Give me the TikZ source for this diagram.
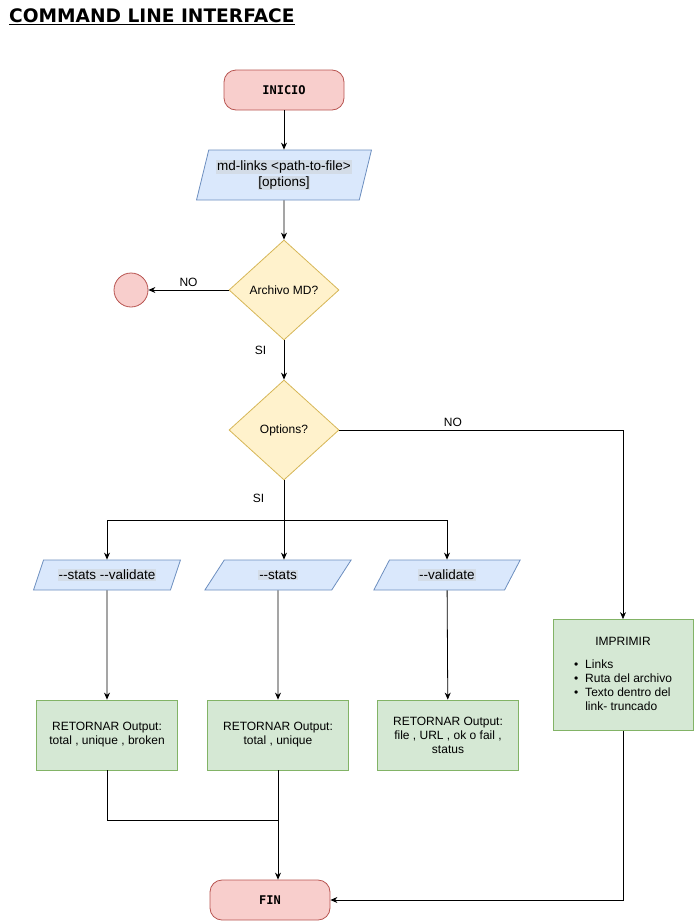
\documentclass[tikz,border=0pt]{standalone}
\usepackage{fontspec}
\setmainfont{Liberation Sans}
\newfontfamily\titlefont{DejaVu Sans}
\newfontfamily\termfont{DejaVu Sans Mono}
\usepackage{tikz}
\usetikzlibrary{shapes.geometric, arrows.meta, positioning, calc}
\definecolor{termfill}{HTML}{F8CECC}
\definecolor{termline}{HTML}{B85450}
\definecolor{iofill}{HTML}{DAE8FC}
\definecolor{ioline}{HTML}{6C8EBF}
\definecolor{askfill}{HTML}{FFF2CC}
\definecolor{askline}{HTML}{D6B656}
\definecolor{outfill}{HTML}{D5E8D4}
\definecolor{outline}{HTML}{82B366}
\definecolor{hlgray}{HTML}{D3DCE7}
\newcommand{\hlt}[1]{{\setlength{\fboxsep}{0.8pt}\colorbox{hlgray}{#1}}}

\begin{document}
\begin{tikzpicture}[x=1pt, y=-1pt,
    terminal/.style={rectangle, rounded corners=12pt, draw=termline, fill=termfill,
        line width=0.8pt, minimum width=120pt, minimum height=40pt,
        font=\termfont\bfseries\fontsize{12}{14}\selectfont},
    entrada/.style={trapezium, trapezium stretches=true, draw=ioline, fill=iofill,
        line width=0.8pt, inner sep=0pt, align=center,
        font=\fontsize{13.5}{16}\selectfont},
    pregunta/.style={diamond, draw=askline, fill=askfill, line width=0.8pt,
        inner sep=0pt, minimum width=110pt, minimum height=100pt,
        font=\fontsize{12}{14}\selectfont},
    salida/.style={rectangle, draw=outline, fill=outfill, line width=0.8pt,
        minimum width=141pt, minimum height=70pt, align=center,
        font=\fontsize{12}{14}\selectfont},
    flecha/.style={-{Stealth[length=7pt,width=6pt]}, line width=0.8pt},
    linea/.style={line width=0.8pt},
    rotulo/.style={font=\fontsize{12}{14}\selectfont}]
    \useasboundingbox (0,0) rectangle (694,921);

    % Title
    \node[anchor=west, inner sep=0pt, font=\titlefont\bfseries\fontsize{18.6}{20}\selectfont]
        (titulo) at (9,17) {\underline{COMMAND LINE INTERFACE}};

    % Main column
    \node[terminal] (inicio) at (284,90) {INICIO};
    \node[entrada, trapezium left angle=70, trapezium right angle=110,
        minimum width=175pt, minimum height=50pt] (cmd) at (284,175)
        {\hlt{md-links <path-to-file>}\\\hlt{[options]}};
    \node[pregunta] (esmd) at (284,290) {Archivo MD?};
    \node[circle, draw=termline, fill=termfill, line width=0.8pt,
        minimum size=34pt, inner sep=0pt] (nomd) at (131,290) {};
    \node[pregunta] (opts) at (284,430) {Options?};

    % Option branches
    \coordinate (rama) at (284,520);
    \node[entrada, trapezium left angle=56, trapezium right angle=124,
        minimum width=147pt, minimum height=30pt] (sv) at (107,575) {\hlt{-{}-stats -{}-validate}};
    \node[entrada, trapezium left angle=56, trapezium right angle=124,
        minimum width=147pt, minimum height=30pt] (st) at (278,575) {\hlt{-{}-stats}};
    \node[entrada, trapezium left angle=56, trapezium right angle=124,
        minimum width=147pt, minimum height=30pt] (val) at (447,575) {\hlt{-{}-validate}};

    \node[salida] (r1) at (107,735) {RETORNAR Output:\\total , unique , broken};
    \node[salida] (r2) at (278,735) {RETORNAR Output:\\total , unique};
    \node[salida] (r3) at (448,735) {RETORNAR Output:\\file , URL , ok o fail ,\\status};

    \node[salida, minimum width=140pt, minimum height=111pt] (imprimir) at (623,675)
        {\begin{tabular}{@{}l@{\hspace{7pt}}l@{}}
            \multicolumn{2}{c}{IMPRIMIR}\\[9pt]
            • & Links\\
            • & Ruta del archivo\\
            • & Texto dentro del\\
              & link- truncado
        \end{tabular}};

    \node[terminal] (fin) at (270,900) {FIN};
    \coordinate (junta) at (278,820);

    % Connectors
    \draw[flecha] (inicio) -- (cmd);
    \draw[flecha] (cmd) -- (esmd);
    \draw[flecha] (esmd) -- node[rotulo, above] (lno1) {NO} (nomd);
    \draw[flecha] (esmd) -- node[rotulo, near start, left=14pt] (lsi1) {SI} (opts);
    \draw[flecha] (opts.east) -| node[rotulo, pos=0.2, above] (lno2) {NO} (imprimir.north);
    \draw[linea] (opts) -- node[rotulo, pos=0.45, left=16pt] (lsi2) {SI} (rama);
    \draw[linea] (rama -| sv.north) -- (rama -| val.north);
    \draw[flecha] (rama -| sv.north) -- (sv.north);
    \draw[flecha] (rama) -- (rama |- st.north);
    \draw[flecha] (rama -| val.north) -- (val.north);

    \draw[flecha] (sv) -- (r1);
    \draw[flecha] (st) -- (r2);
    \draw[flecha] (val) -- (r3);

    \draw[linea] (r1.south) |- (junta);
    \draw[flecha] (r2.south) -- (r2.south |- fin.north);
    \draw[flecha] (imprimir.south) |- (fin.east);
\end{tikzpicture}
\end{document}
